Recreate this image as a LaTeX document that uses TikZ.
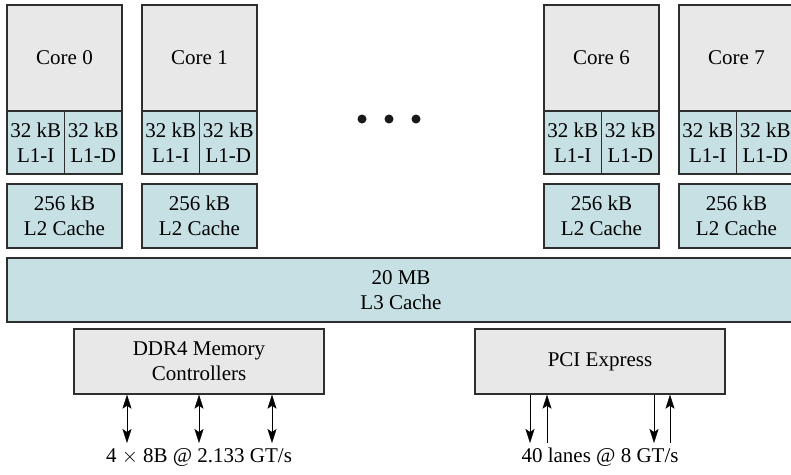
\documentclass[tikz,border=0pt]{standalone}
\usepackage{fontspec}
\setmainfont{Liberation Serif}
\usepackage{tikz}
\usetikzlibrary{shapes,arrows,calc,arrows.meta,positioning}
\definecolor{coregray}{HTML}{E8E8E8}
\definecolor{cachecol}{HTML}{C6E0E3}
\definecolor{linecol}{HTML}{2E2E2E}
\tikzset{
    -{Stealth[length=14pt,width=9pt,inset=3pt]},line width=1.3pt,draw=linecol,
    box/.style ={rectangle, draw=linecol, line width=1.4pt, inner sep=1pt, align=center, font=\fontsize{21}{25}\selectfont},
    core/.style ={box, fill=coregray, minimum width=115pt, minimum height=106pt},
    lone/.style ={box, fill=cachecol, minimum width=57.5pt, minimum height=63pt},
    ltwo/.style ={box, fill=cachecol, minimum width=115pt, minimum height=64pt},
    ctrl/.style ={box, fill=coregray, minimum width=250pt, minimum height=65pt},
    dot/.style = {circle, fill=black!90, inner sep=0pt, minimum size=9pt, node contents={}},
    bidirected/.style={{Stealth[length=14pt,width=9pt,inset=3pt]}-{Stealth[length=14pt,width=9pt,inset=3pt]}},
    lbl/.style = {inner sep=0pt, font=\fontsize{21}{25}\selectfont}
}
\begin{document}
\begin{tikzpicture}[x=1pt,y=-1pt]
    \useasboundingbox (0,0) rectangle (791,474);
    % cores
    \node[core] (c0) at (64.5,58) {Core 0};
    \node[lone] (i0) at (35.75,142.5) {32 kB\\L1-I};
    \node[lone] (d0) at (93.25,142.5) {32 kB\\L1-D};
    \node[ltwo] (l0) at (64.5,216) {256 kB\\L2 Cache};

    \node[core] (c1) at (199.5,58) {Core 1};
    \node[lone] (i1) at (170.75,142.5) {32 kB\\L1-I};
    \node[lone] (d1) at (228.25,142.5) {32 kB\\L1-D};
    \node[ltwo] (l1) at (199.5,216) {256 kB\\L2 Cache};

    \node[core] (c6) at (601.5,58) {Core 6};
    \node[lone] (i6) at (572.75,142.5) {32 kB\\L1-I};
    \node[lone] (d6) at (630.25,142.5) {32 kB\\L1-D};
    \node[ltwo] (l6) at (601.5,216) {256 kB\\L2 Cache};

    \node[core] (c7) at (736.5,58) {Core 7};
    \node[lone] (i7) at (707.75,142.5) {32 kB\\L1-I};
    \node[lone] (d7) at (765.25,142.5) {32 kB\\L1-D};
    \node[ltwo] (l7) at (736.5,216) {256 kB\\L2 Cache};

    \node (e1) at (362,119) [dot];
    \node (e2) at (389,119) [dot];
    \node (e3) at (416,119) [dot];

    \node[ltwo, minimum width=788pt] (l3) at (401,290) {20 MB\\L3 Cache};

    \node[ctrl] (ddr) at (199,361.5) {DDR4 Memory\\Controllers};
    \node[ctrl] (pci) at (600,361.5) {PCI Express};

    \node[lbl] (ml) at (199,457) {4 $\times$ 8B @ 2.133 GT/s};
    \node[lbl] (pl) at (600,457) {40 lanes @ 8 GT/s};

    \coordinate (m1) at (127,443);
    \coordinate (m2) at (199,443);
    \coordinate (m3) at (272,443);
    \coordinate (p1) at (530,443);
    \coordinate (p2) at (547,443);
    \coordinate (p3) at (654,443);
    \coordinate (p4) at (670,443);

     \path[bidirected] (ddr.south -| m1) edge (m1);
     \path[bidirected] (ddr.south -| m2) edge (m2);
     \path[bidirected] (ddr.south -| m3) edge (m3);
      \path (pci.south -| p1) edge (p1);
      \path (p2) edge (pci.south -| p2);
      \path (pci.south -| p3) edge (p3);
      \path (p4) edge (pci.south -| p4);
\end{tikzpicture}
\end{document}
